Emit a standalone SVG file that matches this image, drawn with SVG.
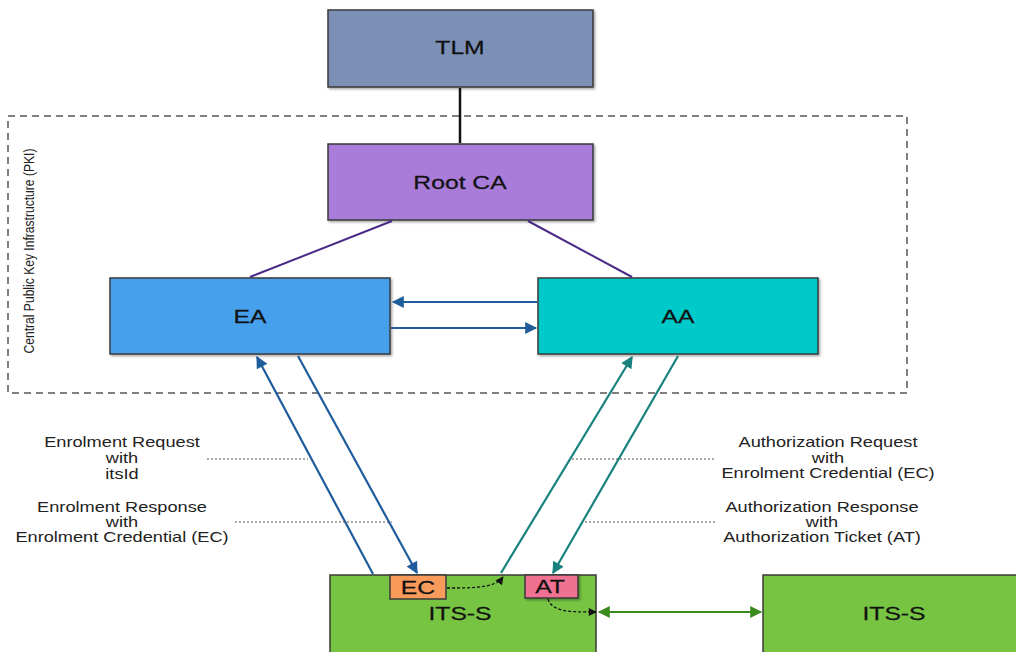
<svg xmlns="http://www.w3.org/2000/svg" width="1016" height="652" viewBox="0 0 1016 652">
<style>
.box{stroke:#3a3a3a;stroke-width:1.5}
.lbl{font-family:"Liberation Sans",Arial,sans-serif;font-size:19px;fill:#111;text-anchor:middle;dominant-baseline:central;stroke:#111;stroke-width:0.25}
.note{font-family:"Liberation Sans",Arial,sans-serif;font-size:14px;fill:#222;text-anchor:middle}
.dot{stroke:#555;stroke-width:1;stroke-dasharray:2 2;fill:none}
.blue{stroke:#1f5c9c;stroke-width:2.2;fill:none}
.teal{stroke:#17827d;stroke-width:2.2;fill:none}
</style>
<defs>
<filter id="sh" x="-5%" y="-5%" width="115%" height="120%"><feDropShadow dx="1.5" dy="1.5" stdDeviation="1" flood-color="#000" flood-opacity="0.35"/></filter>
<marker id="abig" viewBox="0 0 10 10" refX="9" refY="5" markerWidth="14" markerHeight="12" orient="auto-start-reverse" markerUnits="userSpaceOnUse"><path d="M0,0L10,5L0,10z" fill="#1f5c9c"/></marker>
<marker id="at" viewBox="0 0 10 10" refX="9" refY="5" markerWidth="14" markerHeight="12" orient="auto-start-reverse" markerUnits="userSpaceOnUse"><path d="M0,0L10,5L0,10z" fill="#17827d"/></marker>
<marker id="ag" viewBox="0 0 10 10" refX="9" refY="5" markerWidth="16" markerHeight="12" orient="auto-start-reverse" markerUnits="userSpaceOnUse"><path d="M0,0L10,5L0,10z" fill="#3b8a1c"/></marker>
<marker id="ak" viewBox="0 0 10 10" refX="9" refY="5" markerWidth="10" markerHeight="8" orient="auto-start-reverse" markerUnits="userSpaceOnUse"><path d="M0,0L10,5L0,10z" fill="#111"/></marker>
</defs>
<rect width="1016" height="652" fill="#fff"/>
<g id="pki">
<rect x="8" y="116" width="899" height="277" fill="none" stroke="#555" stroke-width="1.5" stroke-dasharray="7 5"/>
<text transform="translate(29,251) rotate(-90)" class="note" dominant-baseline="central" font-size="14" textLength="205" lengthAdjust="spacingAndGlyphs">Central Public Key Infrastructure (PKI)</text>
</g>
<g id="tlm"><rect x="328" y="10" width="265" height="77" fill="#7b90b6" class="box" filter="url(#sh)"/><text transform="translate(460,48) scale(1.3,1)" class="lbl">TLM</text></g>
<g id="rootca"><rect x="328" y="144" width="265" height="76" fill="#a87cd8" class="box" filter="url(#sh)"/><text transform="translate(460,183) scale(1.3,1)" class="lbl">Root CA</text></g>
<g id="ea"><rect x="110" y="278" width="280" height="76" fill="#47a0ec" class="box" filter="url(#sh)"/><text transform="translate(250,317) scale(1.3,1)" class="lbl">EA</text></g>
<g id="aa"><rect x="538" y="278" width="280" height="76" fill="#00c9c9" class="box" filter="url(#sh)"/><text transform="translate(678,317) scale(1.3,1)" class="lbl">AA</text></g>
<g id="its1"><rect x="330" y="575" width="266" height="90" fill="#77c443" class="box"/><text transform="translate(460,614) scale(1.3,1)" class="lbl">ITS-S</text></g>
<g id="its2"><rect x="763" y="575" width="270" height="90" fill="#77c443" class="box"/><text transform="translate(894,614) scale(1.3,1)" class="lbl">ITS-S</text></g>
<g id="ec"><rect x="390" y="575" width="56" height="24" fill="#f79a5a" class="box"/><text transform="translate(418,588) scale(1.3,1)" class="lbl" font-size="17">EC</text></g>
<g id="at"><rect x="525" y="575" width="53" height="23" fill="#f07292" class="box" filter="url(#sh)"/><text transform="translate(550,587) scale(1.3,1)" class="lbl" font-size="17">AT</text></g>
<g id="connectors">
<line x1="460" y1="88" x2="460" y2="143" stroke="#111" stroke-width="2.5"/>
<line x1="392" y1="221" x2="250" y2="277" stroke="#4b2a87" stroke-width="2"/>
<line x1="528" y1="221" x2="632" y2="277" stroke="#4b2a87" stroke-width="2"/>
<line x1="537" y1="302" x2="393" y2="302" class="blue" marker-end="url(#abig)"/>
<line x1="391" y1="328" x2="536" y2="328" class="blue" marker-end="url(#abig)"/>
<line x1="373" y1="574" x2="257" y2="357" class="blue" marker-end="url(#abig)"/>
<line x1="298" y1="356" x2="417" y2="573" class="blue" marker-end="url(#abig)"/>
<line x1="501" y1="573" x2="632" y2="357" class="teal" marker-end="url(#at)"/>
<line x1="678" y1="356" x2="553" y2="573" class="teal" marker-end="url(#at)"/>
<line x1="599" y1="612" x2="761" y2="612" stroke="#3b8a1c" stroke-width="2.2" marker-start="url(#ag)" marker-end="url(#ag)"/>
<path d="M447,588 C475,588 495,588 503,577" stroke="#111" stroke-width="1.3" stroke-dasharray="3 2" fill="none" marker-end="url(#ak)"/>
<path d="M548,599 C552,612 570,612 596,612" stroke="#111" stroke-width="1.3" stroke-dasharray="3 2" fill="none" marker-end="url(#ak)"/>
<line x1="207" y1="459" x2="308" y2="459" class="dot"/>
<line x1="235" y1="522" x2="392" y2="522" class="dot"/>
<line x1="572" y1="459" x2="715" y2="459" class="dot"/>
<line x1="585" y1="522" x2="715" y2="522" class="dot"/>
</g>
<g id="labels">
<text class="note" transform="translate(122,0) scale(1.3,1)"><tspan x="0" y="447">Enrolment Request</tspan><tspan x="0" y="463">with</tspan><tspan x="0" y="479">itsId</tspan></text>
<text class="note" transform="translate(122,0) scale(1.3,1)"><tspan x="0" y="512">Enrolment Response</tspan><tspan x="0" y="527">with</tspan><tspan x="0" y="542">Enrolment Credential (EC)</tspan></text>
<text class="note" transform="translate(828,0) scale(1.3,1)"><tspan x="0" y="447">Authorization Request</tspan><tspan x="0" y="463">with</tspan><tspan x="0" y="478">Enrolment Credential (EC)</tspan></text>
<text class="note" transform="translate(822,0) scale(1.3,1)"><tspan x="0" y="512">Authorization Response</tspan><tspan x="0" y="527">with</tspan><tspan x="0" y="542">Authorization Ticket (AT)</tspan></text>
</g>
</svg>
